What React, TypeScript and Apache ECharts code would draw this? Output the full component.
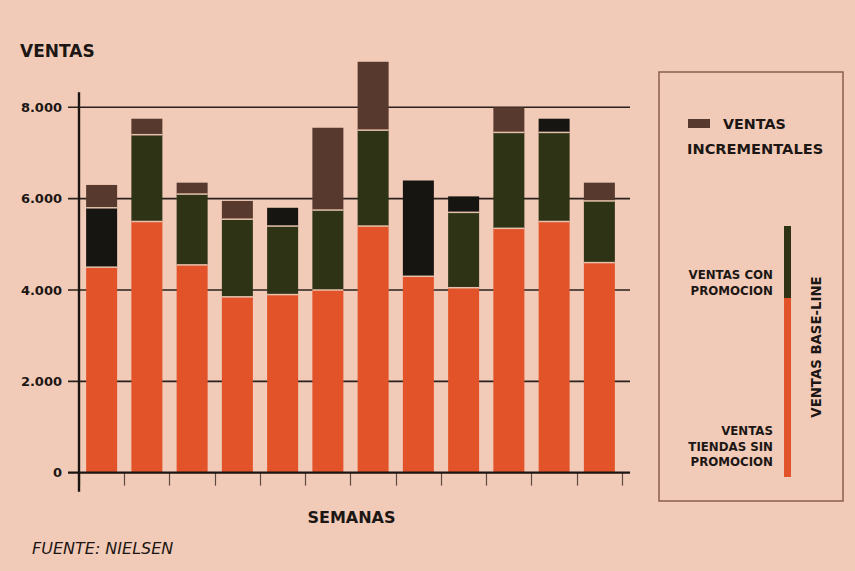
import { useEffect, useRef } from "react";
import * as echarts from "echarts";

const semanas = ["1", "2", "3", "4", "5", "6", "7", "8", "9", "10", "11", "12"];
const ventasSinPromocion = [4500, 5500, 4550, 3850, 3900, 4000, 5400, 4300, 4050, 5350, 5500, 4600];
const ventasConPromocion = [1300, 1900, 1550, 1700, 1500, 1750, 2100, 2100, 1650, 2100, 1950, 1350];
const ventasIncrementales = [500, 350, 250, 400, 400, 1800, 1500, 0, 350, 550, 300, 400];
// segments that were printed in black in the original
const promoOscuro = [true, false, false, false, false, false, false, true, false, false, false, false];
const incrOscuro = [false, false, false, false, true, false, false, false, true, false, true, false];
const yTicks = [0, 2000, 4000, 6000, 8000];

const BG = "#f2cbb8";
const ORANGE = "#e3532a";
const GREEN = "#2e3316";
const BROWN = "#58392e";
const BLACK = "#171512";
const INK = "#1c1614";
const SEP = "#e6c2ac";
const FONT = "'DejaVu Sans', 'Liberation Sans', Arial, sans-serif";
const BAR_W = 31;

export default function App() {
  const ref = useRef<HTMLDivElement>(null);
  useEffect(() => {
    const el = ref.current!;
    const chart = echarts.init(el, null, { renderer: "svg" });
    const fmt = (v: number) => (v === 0 ? "0" : `${v / 1000}.000`);
    const option: any = {
      animation: false,
      backgroundColor: BG,
      grid: { left: 79, right: 233, top: 107.3, bottom: 98.3, containLabel: false },
      xAxis: {
        type: "category",
        data: semanas,
        boundaryGap: true,
        axisLine: { show: false },
        axisTick: { show: true, inside: false, length: 13, lineStyle: { color: "#5b4a40", width: 1.2 } },
        axisLabel: { show: false },
      },
      yAxis: {
        type: "value",
        min: 0,
        max: 8000,
        interval: 2000,
        axisLine: { show: false },
        axisTick: { show: false },
        splitLine: { show: false },
        axisLabel: {
          formatter: fmt,
          margin: 17,
          color: INK,
          fontWeight: "bold",
          fontSize: 13,
          fontFamily: FONT,
        },
      },
      series: [
        {
          name: "Ventas tiendas sin promoción",
          type: "bar",
          stack: "v",
          barWidth: BAR_W,
          clip: false,
          itemStyle: { color: ORANGE },
          data: ventasSinPromocion,
        },
        {
          name: "Ventas con promoción",
          type: "bar",
          stack: "v",
          barWidth: BAR_W,
          clip: false,
          itemStyle: { color: GREEN },
          data: ventasConPromocion.map((v, i) => ({
            value: v,
            itemStyle: { color: promoOscuro[i] ? BLACK : GREEN },
          })),
        },
        {
          name: "Ventas incrementales",
          type: "bar",
          stack: "v",
          barWidth: BAR_W,
          clip: false,
          itemStyle: { color: BROWN },
          data: ventasIncrementales.map((v, i) => ({
            value: v,
            itemStyle: { color: incrOscuro[i] ? BLACK : BROWN },
          })),
        },
      ],
    };
    chart.setOption(option);

    const xPix = (i: number) => chart.convertToPixel({ xAxisIndex: 0 }, i) as number;
    const x0 = xPix(0);
    const xStep = xPix(1) - x0;
    const axisLeft = x0 - xStep / 2;
    const axisRight = x0 + xStep * (semanas.length - 0.5);
    const yPix = (v: number) => chart.convertToPixel({ yAxisIndex: 0 }, v) as number;
    const y0 = yPix(0);
    const yTop = yPix(8000);

    const lineStyle = { stroke: "#2a211c", lineWidth: 1.6 };
    const graphics: any[] = [];
    yTicks.forEach((t) => {
      if (t === 0) return;
      graphics.push({
        type: "line",
        z: 0,
        shape: { x1: axisLeft - 11, y1: yPix(t), x2: axisRight + 8, y2: yPix(t) },
        style: lineStyle,
      });
    });
    // light separators between stacked segments
    semanas.forEach((_, i) => {
      const cx = xPix(i);
      const seps: number[] = [];
      if (ventasConPromocion[i] > 0) seps.push(ventasSinPromocion[i]);
      if (ventasIncrementales[i] > 0) seps.push(ventasSinPromocion[i] + ventasConPromocion[i]);
      seps.forEach((v) => {
        graphics.push({
          type: "line",
          z: 20,
          shape: { x1: cx - BAR_W / 2, y1: yPix(v), x2: cx + BAR_W / 2, y2: yPix(v) },
          style: { stroke: SEP, lineWidth: 1.5 },
        });
      });
    });
    // axes
    graphics.push({
      type: "line",
      z: 10,
      shape: { x1: axisLeft - 11, y1: y0, x2: axisRight + 8, y2: y0 },
      style: { stroke: "#1a1512", lineWidth: 2.2 },
    });
    graphics.push({
      type: "line",
      z: 10,
      shape: { x1: axisLeft, y1: yTop - 15, x2: axisLeft, y2: y0 + 19 },
      style: { stroke: "#1a1512", lineWidth: 2.4 },
    });
    // titles
    graphics.push({
      type: "text",
      x: 20,
      y: 51,
      style: { text: "VENTAS", font: `bold 17px ${FONT}`, fill: INK, verticalAlign: "middle" },
    });
    graphics.push({
      type: "text",
      x: (axisLeft + axisRight) / 2 + 1,
      y: 517,
      style: {
        text: "SEMANAS",
        font: `bold 16px ${FONT}`,
        fill: INK,
        align: "center",
        verticalAlign: "middle",
      },
    });
    graphics.push({
      type: "text",
      x: 32,
      y: 548,
      style: {
        text: "FUENTE: NIELSEN",
        font: `italic 16px ${FONT}`,
        fill: INK,
        verticalAlign: "middle",
      },
    });
    // legend box
    graphics.push({
      type: "rect",
      shape: { x: 659, y: 72, width: 184, height: 429 },
      style: { fill: "none", stroke: "#8c5e4c", lineWidth: 1.5 },
    });
    graphics.push({
      type: "rect",
      shape: { x: 688, y: 119, width: 22, height: 9 },
      style: { fill: BROWN },
    });
    graphics.push({
      type: "text",
      x: 723,
      y: 123.5,
      style: { text: "VENTAS", font: `bold 14.3px ${FONT}`, fill: INK, verticalAlign: "middle" },
    });
    graphics.push({
      type: "text",
      x: 687,
      y: 148,
      style: { text: "INCREMENTALES", font: `bold 14.6px ${FONT}`, fill: INK, verticalAlign: "middle" },
    });
    graphics.push({
      type: "rect",
      shape: { x: 784, y: 226, width: 7, height: 72 },
      style: { fill: GREEN },
    });
    graphics.push({
      type: "rect",
      shape: { x: 784, y: 298, width: 7, height: 179 },
      style: { fill: ORANGE },
    });
    const legText = (text: string, y: number) => ({
      type: "text",
      x: 773,
      y,
      style: { text, font: `bold 11.8px ${FONT}`, fill: INK, align: "right", verticalAlign: "middle" },
    });
    graphics.push(legText("VENTAS CON", 275));
    graphics.push(legText("PROMOCION", 290.5));
    graphics.push(legText("VENTAS", 431));
    graphics.push(legText("TIENDAS SIN", 446.5));
    graphics.push(legText("PROMOCION", 462));
    graphics.push({
      type: "text",
      x: 816,
      y: 347,
      rotation: Math.PI / 2,
      style: {
        text: "VENTAS BASE-LINE",
        font: `bold 13.3px ${FONT}`,
        fill: INK,
        align: "center",
        verticalAlign: "middle",
      },
    });

    chart.setOption({ graphic: { elements: graphics } });
    return () => chart.dispose();
  }, []);
  return (
    <div
      ref={ref}
      style={{ position: "fixed", left: 0, top: 0, width: 855, height: 571, background: BG }}
    />
  );
}
